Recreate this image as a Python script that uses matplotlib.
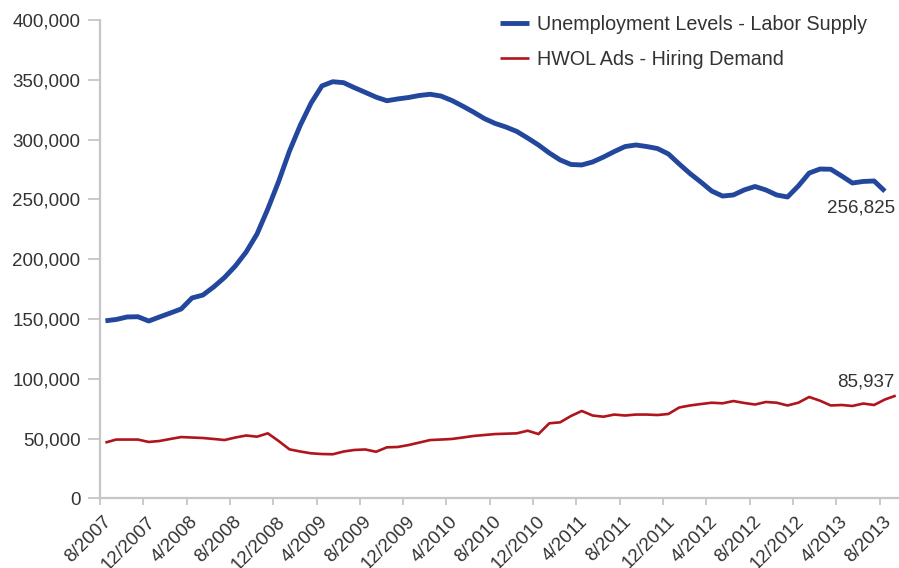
import numpy as np
import matplotlib.pyplot as plt
import matplotlib.transforms as mtransforms
from matplotlib.ticker import FuncFormatter

plt.rcParams['font.family'] = ['Liberation Sans', 'DejaVu Sans']

# monthly values starting 8/2007
unemployment = [
    148500, 149600, 151700, 151900, 148300, 151700, 155000, 158400, 167600, 170000,
    176800, 184700, 194300, 206000, 221000, 242000, 265000, 290400, 312000, 330600,
    344900, 348400, 347600, 343400, 339500, 335500, 332500, 334000, 335200, 336900,
    337900, 336400, 332700, 328000, 323000, 317600, 313500, 310500, 306800, 301300,
    295500, 288800, 283000, 279200, 278800, 281300, 285400, 290000, 294200, 295500,
    294200, 292500, 288000, 279600, 271600, 264500, 257000, 252800, 253700, 257900,
    260800, 257900, 253700, 252000, 261200, 272000, 275400, 275200, 269600, 263700,
    265000, 265400, 256825,
]
hwol_ads = [
    46700, 49200, 49200, 49200, 47200, 48000, 49700, 51300, 50900, 50500,
    49700, 48800, 50900, 52600, 51600, 54400, 48000, 41000, 39200, 37700,
    37100, 36900, 39200, 40500, 40900, 39000, 42700, 43000, 44600, 46700,
    48800, 49200, 49700, 50900, 52200, 53000, 53800, 54100, 54400, 56600,
    53800, 62800, 63600, 68900, 73100, 69300, 68300, 70100, 69300, 70100,
    70100, 69700, 70600, 76000, 77700, 78900, 80000, 79500, 81400, 79800,
    78500, 80600, 80000, 77700, 80000, 84800, 81700, 77700, 78100, 77300,
    79300, 78100, 82700, 85937,
]
tick_labels = ['8/2007', '12/2007', '4/2008', '8/2008', '12/2008', '4/2009',
               '8/2009', '12/2009', '4/2010', '8/2010', '12/2010', '4/2011',
               '8/2011', '12/2011', '4/2012', '8/2012', '12/2012', '4/2013',
               '8/2013']

BLUE = '#22479c'
RED = '#b0141c'
AXIS = '#c6c6c6'
TEXT = '#333333'
FS = 13.5

fig = plt.figure(figsize=(8.99, 5.68), dpi=100)
ax = fig.add_axes([100 / 899, 69.6 / 568, 799 / 899, 478.4 / 568])

# points sit in the middle of each month
x_u = np.arange(len(unemployment)) + 0.5
x_h = np.arange(len(hwol_ads)) + 0.5

ax.plot(x_u, unemployment, color=BLUE, lw=3.5, solid_joinstyle='round',
        solid_capstyle='butt', label='Unemployment Levels - Labor Supply')
ax.plot(x_h, hwol_ads, color=RED, lw=1.9, solid_joinstyle='round',
        solid_capstyle='butt', label='HWOL Ads - Hiring Demand')

ax.set_xlim(0, 73.8)
ax.set_ylim(0, 400000)

for s in ['top', 'right']:
    ax.spines[s].set_visible(False)
for s in ['left', 'bottom']:
    ax.spines[s].set_color(AXIS)
    ax.spines[s].set_linewidth(1.6)

ax.set_yticks(np.arange(0, 400001, 50000))
ax.yaxis.set_major_formatter(FuncFormatter(lambda v, p: f'{v:,.0f}'))
ax.tick_params(axis='y', length=9, width=1.3, color=AXIS, pad=5,
               labelsize=FS, labelcolor=TEXT)

ax.set_xticks(np.arange(0, 4 * len(tick_labels), 4))
ax.set_xticklabels(tick_labels)
ax.tick_params(axis='x', length=5, width=1.3, color=AXIS, pad=10,
               labelsize=FS, labelcolor=TEXT)
shift = mtransforms.ScaledTranslation(6.5 / 72, 0, fig.dpi_scale_trans)
for lbl in ax.get_xticklabels():
    lbl.set_rotation(45)
    lbl.set_rotation_mode('anchor')
    lbl.set_ha('right')
    lbl.set_va('center')
    lbl.set_transform(lbl.get_transform() + shift)

ax.legend(loc='upper left', bbox_to_anchor=(500 / 899, 1 - 15 / 568),
          bbox_transform=fig.transFigure, frameon=False, fontsize=14.2,
          handlelength=1.45, handletextpad=0.45, labelspacing=0.8,
          borderpad=0, borderaxespad=0, labelcolor=TEXT)

ax.annotate(f'{unemployment[-1]:,}', xy=(x_u[-1], unemployment[-1]),
            xytext=(7, -12), textcoords='offset points', ha='right',
            va='center', fontsize=FS, color=TEXT)
ax.annotate(f'{hwol_ads[-1]:,}', xy=(x_h[-1], hwol_ads[-1]),
            xytext=(-1, 10), textcoords='offset points', ha='right',
            va='center', fontsize=FS, color=TEXT)

fig.savefig('out.png', dpi=100)
